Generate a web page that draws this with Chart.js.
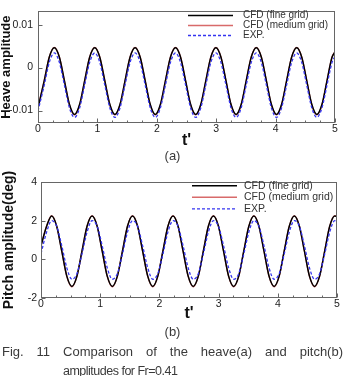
<!DOCTYPE html>
<html><head><meta charset="utf-8">
<script src="https://cdn.jsdelivr.net/npm/chart.js@4.4.1/dist/chart.umd.min.js"></script>
<style>
html,body{margin:0;padding:0;background:#fff;width:345px;height:376px;overflow:hidden;position:relative;}
#wa{position:absolute;left:0;top:0;width:345px;height:149px;}
#wb{position:absolute;left:0;top:165px;width:345px;height:157px;}
.lab{position:absolute;font-family:"Liberation Sans",Arial,sans-serif;color:#3a3a3a;font-size:13px;line-height:15px;white-space:nowrap;}
</style></head><body>
<div id="wa"><canvas id="ca"></canvas></div>
<div class="lab" style="left:0;width:345px;text-align:center;top:148px;">(a)</div>
<div id="wb"><canvas id="cb"></canvas></div>
<div class="lab" style="left:0;width:345px;text-align:center;top:324px;">(b)</div>
<div class="lab" style="left:2px;width:341px;top:344px;text-align:justify;text-align-last:justify;">Fig. 11 Comparison of the heave(a) and pitch(b)</div>
<div class="lab" style="left:63px;top:364px;font-size:12.5px;letter-spacing:-0.5px;">amplitudes for Fr=0.41</div>
<script>
// ---------- data ----------
const seriesNames = ['CFD (fine grid)', 'CFD (medium grid)', 'EXP.'];
const xTicks = [0, 1, 2, 3, 4, 5];
const xTickLabels = ['0', '1', '2', '3', '4', '5'];

const heaveTicks = [-0.01, 0, 0.01];
const heaveTickLabels = ['-0.01', '0', '0.01'];
const heaveTime = [0, 0.105, 0.19,
  0.275, 0.36, 0.445, 0.53, 0.615, 0.70, 0.785, 0.87,
  0.955, 1.04, 1.125, 1.21, 1.295, 1.38, 1.465, 1.55,
  1.635, 1.72, 1.805, 1.89, 1.975, 2.06, 2.145, 2.23,
  2.315, 2.40, 2.485, 2.57, 2.655, 2.74, 2.825, 2.91,
  2.995, 3.08, 3.165, 3.25, 3.335, 3.42, 3.505, 3.59,
  3.675, 3.76, 3.845, 3.93, 4.015, 4.10, 4.185, 4.27,
  4.355, 4.44, 4.525, 4.61, 4.695, 4.78, 4.865, 4.95,
  5];
const heaveFine = [-0.0094, -0.0031, 0.0024,
  0.0046, 0.0024, -0.0031, -0.0086, -0.0109, -0.0086, -0.0031, 0.0024,
  0.0046, 0.0024, -0.0031, -0.0086, -0.0109, -0.0086, -0.0031, 0.0024,
  0.0046, 0.0024, -0.0031, -0.0086, -0.0109, -0.0086, -0.0031, 0.0024,
  0.0046, 0.0024, -0.0031, -0.0086, -0.0109, -0.0086, -0.0031, 0.0024,
  0.0046, 0.0024, -0.0031, -0.0086, -0.0109, -0.0086, -0.0031, 0.0024,
  0.0046, 0.0024, -0.0031, -0.0086, -0.0109, -0.0086, -0.0031, 0.0024,
  0.0046, 0.0024, -0.0031, -0.0086, -0.0109, -0.0086, -0.0031, 0.0024,
  0.0036];
const heaveMedium = [-0.0093, -0.0030, 0.0025,
  0.0047, 0.0025, -0.0031, -0.0087, -0.0110, -0.0087, -0.0031, 0.0025,
  0.0047, 0.0025, -0.0031, -0.0087, -0.0110, -0.0087, -0.0031, 0.0025,
  0.0047, 0.0025, -0.0031, -0.0087, -0.0110, -0.0087, -0.0031, 0.0025,
  0.0047, 0.0025, -0.0031, -0.0087, -0.0110, -0.0087, -0.0031, 0.0025,
  0.0047, 0.0025, -0.0031, -0.0087, -0.0110, -0.0087, -0.0031, 0.0025,
  0.0047, 0.0025, -0.0031, -0.0087, -0.0110, -0.0087, -0.0031, 0.0025,
  0.0047, 0.0025, -0.0031, -0.0087, -0.0110, -0.0087, -0.0031, 0.0025,
  0.0037];
const heaveExp = [-0.0101, -0.0041, 0.0012,
  0.0034, 0.0012, -0.0041, -0.0094, -0.0116, -0.0094, -0.0041, 0.0012,
  0.0034, 0.0012, -0.0041, -0.0094, -0.0116, -0.0094, -0.0041, 0.0012,
  0.0034, 0.0012, -0.0041, -0.0094, -0.0116, -0.0094, -0.0041, 0.0012,
  0.0034, 0.0012, -0.0041, -0.0094, -0.0116, -0.0094, -0.0041, 0.0012,
  0.0034, 0.0012, -0.0041, -0.0094, -0.0116, -0.0094, -0.0041, 0.0012,
  0.0034, 0.0012, -0.0041, -0.0094, -0.0116, -0.0094, -0.0041, 0.0012,
  0.0034, 0.0012, -0.0041, -0.0094, -0.0116, -0.0094, -0.0041, 0.0012,
  0.0026];

const pitchTicks = [-2, 0, 2, 4];
const pitchTickLabels = ['-2', '0', '2', '4'];
const pitchTime = [0, 0.095,
  0.18, 0.265, 0.351, 0.436, 0.522, 0.607, 0.692, 0.778,
  0.863, 0.949, 1.034, 1.119, 1.205, 1.29, 1.376, 1.461,
  1.546, 1.632, 1.717, 1.803, 1.888, 1.973, 2.059, 2.144,
  2.23, 2.315, 2.4, 2.486, 2.571, 2.657, 2.742, 2.827,
  2.913, 2.998, 3.084, 3.169, 3.254, 3.34, 3.425, 3.511,
  3.596, 3.681, 3.767, 3.852, 3.938, 4.023, 4.108, 4.194,
  4.279, 4.365, 4.45, 4.535, 4.621, 4.706, 4.792, 4.877,
  4.962, 5];
const pitchFine = [0.70, 1.71,
  2.24, 1.71, 0.42, -0.87, -1.40, -0.87, 0.42, 1.71,
  2.24, 1.71, 0.42, -0.87, -1.40, -0.87, 0.42, 1.71,
  2.24, 1.71, 0.42, -0.87, -1.40, -0.87, 0.42, 1.71,
  2.24, 1.71, 0.42, -0.87, -1.40, -0.87, 0.42, 1.71,
  2.24, 1.71, 0.42, -0.87, -1.40, -0.87, 0.42, 1.71,
  2.24, 1.71, 0.42, -0.87, -1.40, -0.87, 0.42, 1.71,
  2.24, 1.71, 0.42, -0.87, -1.40, -0.87, 0.42, 1.71,
  2.24, 2.21];
const pitchMedium = [0.72, 1.72,
  2.26, 1.72, 0.42, -0.88, -1.42, -0.88, 0.42, 1.72,
  2.26, 1.72, 0.42, -0.88, -1.42, -0.88, 0.42, 1.72,
  2.26, 1.72, 0.42, -0.88, -1.42, -0.88, 0.42, 1.72,
  2.26, 1.72, 0.42, -0.88, -1.42, -0.88, 0.42, 1.72,
  2.26, 1.72, 0.42, -0.88, -1.42, -0.88, 0.42, 1.72,
  2.26, 1.72, 0.42, -0.88, -1.42, -0.88, 0.42, 1.72,
  2.26, 1.72, 0.42, -0.88, -1.42, -0.88, 0.42, 1.72,
  2.26, 2.23];
const pitchExp = [0.30, 1.41,
  2.00, 1.71, 0.70, -0.44, -1.03, -0.74, 0.27, 1.41,
  2.00, 1.71, 0.70, -0.44, -1.03, -0.74, 0.27, 1.41,
  2.00, 1.71, 0.70, -0.44, -1.03, -0.74, 0.27, 1.41,
  2.00, 1.71, 0.70, -0.44, -1.03, -0.74, 0.27, 1.41,
  2.00, 1.71, 0.70, -0.44, -1.03, -0.74, 0.27, 1.41,
  2.00, 1.71, 0.70, -0.44, -1.03, -0.74, 0.27, 1.41,
  2.00, 1.71, 0.70, -0.44, -1.03, -0.74, 0.27, 1.41,
  2.00, 1.97];

// ---------- drawing ----------
const FONT = '"Liberation Sans", Arial, sans-serif';
const styles = [
  {color: '#000000', width: 1.5, dash: [], order: 1},
  {color: '#d86a6a', width: 1.4, dash: [], order: 2},
  {color: '#3434f0', width: 1.3, dash: [3, 2], order: 0}
];

const framePlugin = {
  id: 'frame',
  afterDatasetsDraw(chart, args, o) {
    const {ctx, chartArea: a, scales: {x, y}} = chart;
    ctx.save();
    ctx.strokeStyle = '#666';
    ctx.lineWidth = 1;
    ctx.strokeRect(Math.round(a.left) + 0.5, Math.round(a.top) + 0.5,
      Math.round(a.right - a.left) - 1, Math.round(a.bottom - a.top) - 1);
    ctx.beginPath();
    const b = Math.round(a.bottom) - 0.5, l = Math.round(a.left) + 0.5;
    o.xTicks.forEach(v => { const px = Math.round(x.getPixelForValue(v)) + 0.5; ctx.moveTo(px, b); ctx.lineTo(px, b - 4); });
    for (let v = 0.25; v < 5; v += 0.25) {
      if (Math.abs(v - Math.round(v)) < 1e-6) continue;
      const px = Math.round(x.getPixelForValue(v)) + 0.5; ctx.moveTo(px, b); ctx.lineTo(px, b - 2);
    }
    o.yTicks.forEach(v => { const py = Math.round(y.getPixelForValue(v)) + 0.5; ctx.moveTo(l, py); ctx.lineTo(l + 4, py); });
    ctx.stroke();
    // legend
    const L = o.legend;
    ctx.font = L.font + 'px ' + FONT;
    ctx.textBaseline = 'middle';
    ctx.textAlign = 'left';
    chart.data.datasets.forEach((ds, i) => {
      const yy = L.y0 + i * L.dy;
      ctx.beginPath();
      ctx.strokeStyle = ds.borderColor;
      ctx.lineWidth = ds.borderWidth;
      ctx.setLineDash(ds.borderDash || []);
      ctx.moveTo(L.x0, yy); ctx.lineTo(L.x1, yy);
      ctx.stroke();
      ctx.setLineDash([]);
      ctx.fillStyle = '#333';
      ctx.fillText(ds.label, L.tx, yy);
    });
    ctx.restore();
  }
};

function makeChart(id, time, series, yMin, yMax, yTicks, yTickLabels, yTitle, yTitleSize, pad, yAxisW, xAxisH, legend, yPad, yTitlePad) {
  const datasets = series.map((vals, i) => ({
    label: seriesNames[i],
    data: time.map((t, k) => ({x: t, y: vals[k]})),
    borderColor: styles[i].color,
    borderWidth: styles[i].width,
    borderDash: styles[i].dash,
    order: styles[i].order,
    pointRadius: 0,
    fill: false,
    cubicInterpolationMode: 'monotone'
  }));
  return new Chart(document.getElementById(id), {
    type: 'line',
    data: {datasets},
    plugins: [framePlugin],
    options: {
      responsive: true,
      maintainAspectRatio: false,
      animation: false,
      events: [],
      layout: {padding: pad},
      plugins: {
        legend: {display: false},
        tooltip: {enabled: false},
        frame: {xTicks, yTicks, legend}
      },
      scales: {
        x: {
          type: 'linear', min: 0, max: 5,
          grid: {display: false, drawTicks: false},
          border: {display: false},
          afterBuildTicks: s => { s.ticks = xTicks.map(v => ({value: v})); },
          afterFit: s => { s.height = xAxisH; },
          ticks: {autoSkip: false, maxRotation: 0, padding: 0, color: '#222',
            font: {family: FONT, size: 10.5},
            callback: (v, i) => xTickLabels[i]},
          title: {display: true, text: "t'", color: '#111', padding: 0,
            font: {family: FONT, size: 16, weight: 'bold', lineHeight: 1}}
        },
        y: {
          type: 'linear', min: yMin, max: yMax,
          grid: {display: false, drawTicks: false},
          border: {display: false},
          afterBuildTicks: s => { s.ticks = yTicks.map(v => ({value: v})); },
          afterFit: s => { s.width = yAxisW; },
          ticks: {autoSkip: false, padding: yPad, color: '#222',
            font: {family: FONT, size: 10.5},
            callback: (v, i) => yTickLabels[i]},
          title: {display: true, text: yTitle, color: '#111', padding: {top: yTitlePad, bottom: 0},
            font: {family: FONT, size: yTitleSize, weight: 'bold', lineHeight: 1}}
        }
      }
    }
  });
}

makeChart('ca', heaveTime, [heaveFine, heaveMedium, heaveExp],
  -0.0129, 0.0131, heaveTicks, heaveTickLabels, 'Heave amplitude', 13,
  {top: 7, right: 10, left: 0, bottom: 0}, 38, 26,
  {x0: 188, x1: 233, tx: 243, y0: 15.5, dy: 10, font: 10}, 5, 0);

makeChart('cb', pitchTime, [pitchFine, pitchMedium, pitchExp],
  -2, 4, pitchTicks, pitchTickLabels, 'Pitch amplitude(deg)', 14,
  {top: 17, right: 8, left: 0, bottom: 0}, 41, 24,
  {x0: 192, x1: 237, tx: 244, y0: 20.7, dy: 11.6, font: 10.5}, 4, 2);
</script>
</body></html>
